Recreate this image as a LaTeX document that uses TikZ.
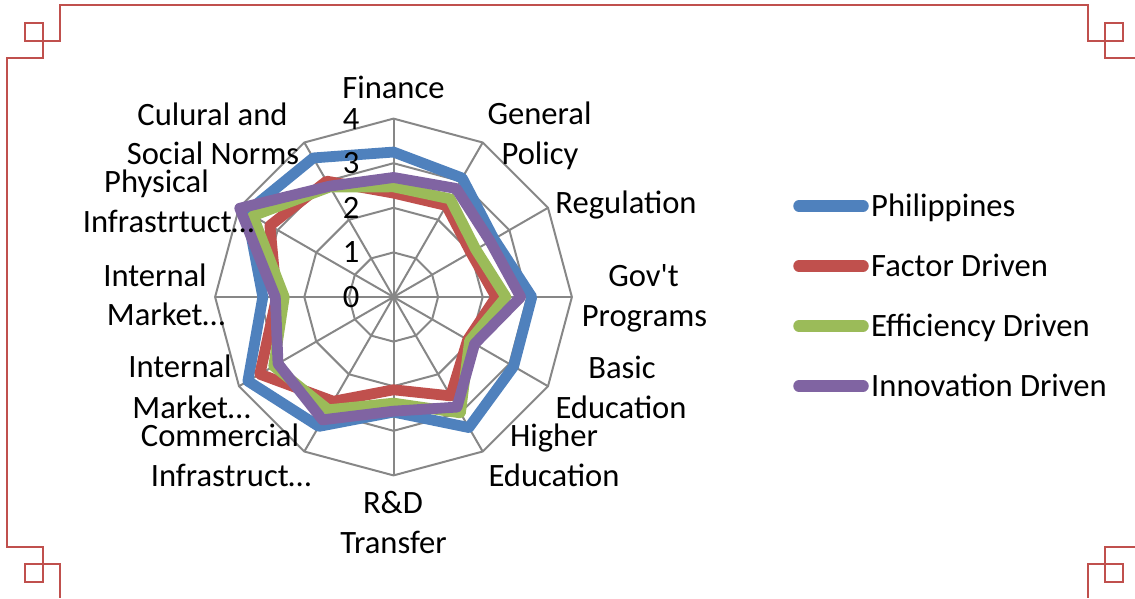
\documentclass[tikz,border=0pt]{standalone}
\usepackage{fontspec}
\setmainfont{Carlito}[Ligatures=TeXOff]
\definecolor{phil}{HTML}{4F81BD}
\definecolor{fact}{HTML}{C0504D}
\definecolor{effi}{HTML}{9BBB59}
\definecolor{inno}{HTML}{8064A2}
\definecolor{gridc}{HTML}{878787}
\definecolor{framec}{HTML}{C0504D}
\newcommand\radarseries[3]{%
  \foreach \v [count=\i from 0] in {#3} {\coordinate (#1\i) at ({90-30*\i}:{\v*44.6});}
  \draw[#2] (#10) \foreach \i in {1,...,11} {-- (#1\i)} -- cycle;
}
\begin{document}
\begin{tikzpicture}[x=1pt,y=-1pt,
  lbl/.style={font=\fontsize{32.6}{40}\selectfont, inner sep=0pt, anchor=base, text=black},
  legtxt/.style={font=\fontsize{32.6}{40}\selectfont, inner sep=0pt, anchor=base west, text=black},
  tick/.style={font=\fontsize{32.6}{40}\selectfont, inner sep=0pt, anchor=east, text=black},
  gridl/.style={draw=gridc, line width=2pt},
  serie/.style={line width=10.8pt, line join=round},
  legline/.style={line width=11.5pt, line cap=round},
  frameline/.style={draw=framec, line width=2.4pt, line join=miter}]
\useasboundingbox (0,0) rectangle (1135,598);
% frame
\draw[frameline] (1135,58) -- (1105,58) -- (1105,23) -- (1123,23) -- (1123,41) -- (1088,41) -- (1088,5) -- (60,5) -- (60,41) -- (25,41) -- (25,23) -- (43,23) -- (43,58) -- (7,58) -- (7,547) -- (43,547) -- (43,582) -- (25,582) -- (25,564) -- (60,564) -- (60,598);
\draw[frameline] (1135,547) -- (1105,547) -- (1105,582) -- (1123,582) -- (1123,564) -- (1088,564) -- (1088,598);
% chart
\begin{scope}[shift={(393.5,297)}, yscale=-1]
  \foreach \r in {1,2,3,4} {\draw[gridl] (90:\r*44.6) \foreach \k in {1,...,11} { -- ({90-30*\k}:\r*44.6)} -- cycle;}
  \foreach \k in {0,...,11} {\draw[gridl] (0,0) -- ({90-30*\k}:178.4);}
  \radarseries{ph}{serie, draw=phil}{3.25,3.08,2.6,3.1,3.11,3.38,2.58,3.35,3.77,2.93,3.8,3.6}
  \radarseries{fa}{serie, draw=fact}{2.33,2.37,2.0,2.3,1.92,2.56,2.08,2.70,3.46,2.62,3.2,3.0}
  \radarseries{ef}{serie, draw=effi}{2.47,2.54,2.13,2.52,1.97,3.0,2.38,2.92,3.1,2.45,3.64,2.85}
  \radarseries{iv}{serie, draw=inno}{2.68,2.81,2.5,2.85,2.1,2.85,2.56,3.18,2.99,2.65,3.98,2.87}
\end{scope}
% tick labels
\foreach \k in {0,...,4} {\node[tick] (t\k) at (359.5,{297-\k*44.6}) {\k};}
% category labels
\node[lbl] (fin) at (393.5,98) {Finance};
\node[lbl] (gen1) at (539.5,124) {General};
\node[lbl] (gen2) at (540,164) {Policy};
\node[lbl] (reg) at (626,213.5) {Regulation};
\node[lbl] (gov1) at (643.5,286.5) {Gov't};
\node[lbl] (gov2) at (644.5,326.5) {Programs};
\node[lbl] (bas1) at (622,378) {Basic};
\node[lbl] (bas2) at (621,418) {Education};
\node[lbl] (hig1) at (554,446.5) {Higher};
\node[lbl] (hig2) at (554,486.5) {Education};
\node[lbl] (rd1) at (393,513) {R\&D};
\node[lbl] (rd2) at (393.5,553) {Transfer};
\node[lbl] (com1) at (220,446) {Commercial};
\node[lbl] (com2) at (231,486.5) {Infrastruct…};
\node[lbl] (imb1) at (180,377.3) {Internal};
\node[lbl] (imb2) at (191.5,418.3) {Market…};
\node[lbl] (ima1) at (155,286) {Internal};
\node[lbl] (ima2) at (166,325.7) {Market…};
\node[lbl] (phy1) at (156.5,192.7) {Physical};
\node[lbl] (phy2) at (168.5,232.7) {Infrastrtuct…};
\node[lbl] (cul1) at (212.5,125) {Culural and};
\node[lbl] (cul2) at (213,164) {Social Norms};
% legend
\coordinate (l1a) at (799,206); \coordinate (l1b) at (863,206);
\coordinate (l2a) at (799,266); \coordinate (l2b) at (863,266);
\coordinate (l3a) at (799,326); \coordinate (l3b) at (863,326);
\coordinate (l4a) at (799,386); \coordinate (l4b) at (863,386);
\draw[legline, phil] (l1a) -- (l1b);
\draw[legline, fact] (l2a) -- (l2b);
\draw[legline, effi] (l3a) -- (l3b);
\draw[legline, inno] (l4a) -- (l4b);
\node[legtxt] (lg1) at (871,216.5) {Philippines};
\node[legtxt] (lg2) at (871,276.5) {Factor Driven};
\node[legtxt] (lg3) at (871,336.5) {Efficiency Driven};
\node[legtxt] (lg4) at (871,396.5) {Innovation Driven};
\end{tikzpicture}
\end{document}
